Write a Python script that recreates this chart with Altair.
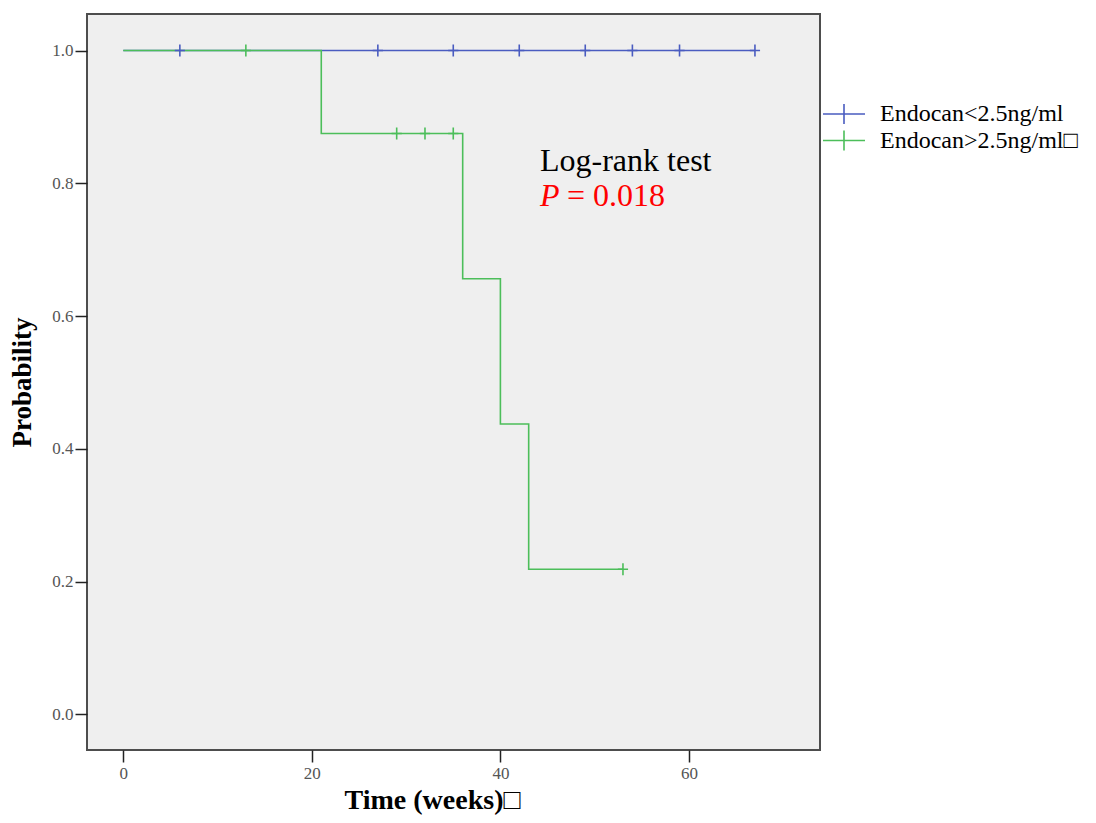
import altair as alt
import pandas as pd

SERIF = "Liberation Serif, Times New Roman, serif"

groups = ["Endocan<2.5ng/ml", "Endocan>2.5ng/ml\u25a1"]
colors = ["#4a5cc0", "#4cbe5a"]

# Kaplan-Meier step points (time, survival)
blue_times = [0, 67]
blue_surv = [1.0, 1.0]
green_times = [0, 21, 36, 40, 43, 53]
green_surv = [1.0, 0.875, 0.65625, 0.4375, 0.21875, 0.21875]

# censoring marks
blue_cens_t = [6, 27, 35, 42, 49, 54, 59, 67]
blue_cens_s = [1.0, 1.0, 1.0, 1.0, 1.0, 1.0, 1.0, 1.0]
green_cens_t = [13, 29, 32, 35, 53]
green_cens_s = [1.0, 0.875, 0.875, 0.875, 0.21875]

x_ticks = [0, 20, 40, 60]
y_ticks = [0.0, 0.2, 0.4, 0.6, 0.8, 1.0]

# annotation
ann_x = [44.2]
ann_y1 = [0.8186]
ann_y2 = [0.766]

curves = pd.DataFrame(
    {"time": blue_times + green_times,
     "surv": blue_surv + green_surv,
     "group": [groups[0]] * len(blue_times) + [groups[1]] * len(green_times)}
)
cens = pd.DataFrame(
    {"time": blue_cens_t + green_cens_t,
     "surv": blue_cens_s + green_cens_s,
     "group": [groups[0]] * len(blue_cens_t) + [groups[1]] * len(green_cens_t)}
)
ann = pd.DataFrame({"x": ann_x, "y1": ann_y1, "y2": ann_y2})

x_scale = alt.Scale(domain=[-3.85, 73.9], nice=False, zero=False)
y_scale = alt.Scale(domain=[-0.0535, 1.055], nice=False, zero=False)

x_axis = alt.Axis(
    values=x_ticks, title="Time (weeks)\u25a1", grid=False, domain=False,
    tickSize=12, tickColor="#222222", tickWidth=1.5,
    labelFont=SERIF, labelFontSize=17, labelColor="#555555", labelPadding=3,
    titleFont=SERIF, titleFontSize=28, titleFontWeight="bold", titleColor="black",
    titleX=345, titleY=58, titleAlign="center", titleBaseline="alphabetic",
)
y_axis = alt.Axis(
    values=y_ticks, format=".1f", title="Probability", grid=False, domain=False,
    tickSize=12, tickColor="#222222", tickWidth=1.5,
    labelFont=SERIF, labelFontSize=17, labelColor="#555555", labelPadding=2,
    titleFont=SERIF, titleFontSize=27, titleFontWeight="bold", titleColor="black",
    titleX=-57, titleY=368, titleAngle=270, titleAlign="center", titleBaseline="alphabetic",
)

color_scale = alt.Scale(domain=groups, range=colors)
legend = alt.Legend(
    title=None, orient="none", legendX=745, legendY=88,
    symbolType="M-2.1,0H2.1M0,-1V1", symbolSize=400, symbolStrokeWidth=1.6,
    symbolFillColor="transparent",
    labelFont=SERIF, labelFontSize=24, labelColor="black", labelOffset=24,
    rowPadding=-1.5, padding=0, labelLimit=400,
)

lines = alt.Chart(curves).mark_line(interpolate="step-after", strokeWidth=1.6).encode(
    x=alt.X("time:Q", scale=x_scale, axis=x_axis),
    y=alt.Y("surv:Q", scale=y_scale, axis=y_axis),
    color=alt.Color("group:N", scale=color_scale, legend=legend),
    detail="group:N",
)

points = alt.Chart(cens).mark_point(
    shape="M-0.85,0H0.85M0,-1V1", size=144, filled=False, strokeWidth=1.6, opacity=1
).encode(
    x=alt.X("time:Q", scale=x_scale),
    y=alt.Y("surv:Q", scale=y_scale),
    color=alt.Color("group:N", scale=color_scale, legend=legend),
)

t1 = alt.Chart(ann).mark_text(
    text="Log-rank test", font=SERIF, fontSize=32, align="left", baseline="alphabetic", color="black"
).encode(x=alt.X("x:Q", scale=x_scale), y=alt.Y("y1:Q", scale=y_scale))

t2 = alt.Chart(ann).mark_text(
    text="P", font=SERIF, fontSize=32, fontStyle="italic", align="left", baseline="alphabetic", color="#ff0000"
).encode(x=alt.X("x:Q", scale=x_scale), y=alt.Y("y2:Q", scale=y_scale))

t3 = alt.Chart(ann).mark_text(
    text="= 0.018", font=SERIF, fontSize=32, align="left", baseline="alphabetic", color="#ff0000", dx=27
).encode(x=alt.X("x:Q", scale=x_scale), y=alt.Y("y2:Q", scale=y_scale))

chart = alt.layer(lines, points, t1, t2, t3).properties(
    width=733, height=736,
    padding={"left": 79, "top": 6, "right": 265, "bottom": 65},
    autosize=alt.AutoSizeParams(type="none"),
    background="white",
).configure_view(
    fill="#efefef", stroke="#4d4d4d", strokeWidth=2
)

chart.save("out.html", embed_options={"renderer": "svg", "actions": False})
